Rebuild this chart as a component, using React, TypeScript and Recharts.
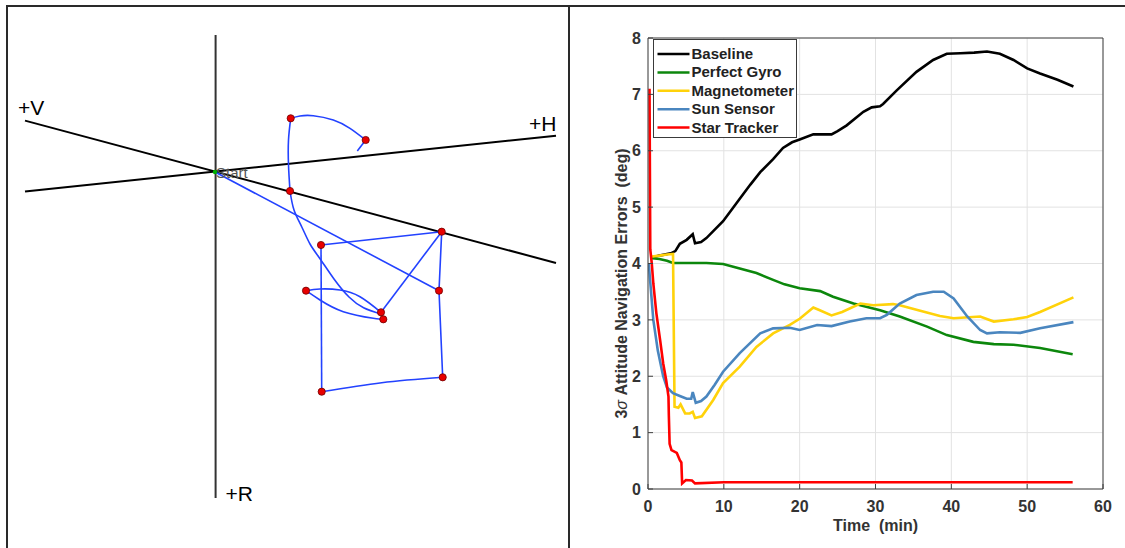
import React from 'react';
import { ComposedChart, Line, XAxis, YAxis, CartesianGrid, Scatter, Legend } from 'recharts';

const FONT = "'Liberation Sans', Arial, Helvetica, sans-serif";

// ---------------- Right panel: 3-sigma attitude navigation errors ----------------
const TIME_TICKS = [0, 10, 20, 30, 40, 50, 60];
const ERROR_TICKS = [0, 1, 2, 3, 4, 5, 6, 7, 8];

const baseline: [number, number][] = [
  [0.3, 4.1], [1.5, 4.14], [3.0, 4.18], [3.6, 4.22], [4.2, 4.35], [5.1, 4.42], [5.9, 4.52], [6.2, 4.36],
  [7.0, 4.38], [7.7, 4.45], [8.8, 4.6], [9.9, 4.75], [11, 4.95], [12.1, 5.15], [13.5, 5.4], [14.8, 5.62],
  [16.5, 5.85], [17.8, 6.05], [19, 6.15], [20, 6.2], [21.8, 6.29], [24.2, 6.29], [25, 6.35], [26.2, 6.45],
  [28.4, 6.69], [29.5, 6.77], [30.6, 6.79], [31, 6.83], [32.8, 7.07], [35.4, 7.4], [37.6, 7.61], [39.4, 7.72],
  [41.2, 7.73], [43, 7.74], [44.7, 7.76], [46.4, 7.72], [48.2, 7.61], [50, 7.46], [51.7, 7.37], [54, 7.26],
  [56.1, 7.14],
];
const perfectGyro: [number, number][] = [
  [0.3, 4.1], [1.5, 4.08], [2.5, 4.05], [3.3, 4.01], [7.7, 4.01], [9.9, 3.99], [12.1, 3.91], [14.3, 3.83],
  [16.5, 3.71], [18, 3.63], [20, 3.56], [22.7, 3.51], [24.4, 3.41], [27.1, 3.29], [30.6, 3.17], [33.2, 3.06],
  [36.8, 2.88], [39.4, 2.73], [42.9, 2.61], [45.6, 2.57], [48.2, 2.56], [51.7, 2.5], [56, 2.39],
];
const magnetometer: [number, number][] = [
  [0.3, 4.12], [1.5, 4.14], [2.5, 4.16], [3.3, 4.17], [3.5, 1.46], [4.0, 1.44], [4.3, 1.5], [4.9, 1.34],
  [5.5, 1.34], [5.9, 1.37], [6.2, 1.26], [7.1, 1.29], [8.6, 1.58], [9.9, 1.88], [12.1, 2.17], [14.3, 2.52],
  [16.5, 2.76], [18.7, 2.91], [20, 3.02], [21.8, 3.22], [22.5, 3.18], [24.2, 3.08], [25.6, 3.14], [28, 3.29],
  [29.7, 3.26], [32.3, 3.28], [33.2, 3.26], [35.9, 3.16], [38.5, 3.07], [40.3, 3.03], [43.8, 3.06], [45.6, 2.97],
  [48.2, 3.01], [50, 3.05], [51.7, 3.14], [56.1, 3.4],
];
const sunSensor: [number, number][] = [
  [0.1, 4.0], [0.4, 3.5], [0.7, 3.0], [1.3, 2.45], [2.0, 2.0], [2.5, 1.8], [3.3, 1.7], [4.2, 1.65],
  [5.1, 1.6], [5.7, 1.6], [5.9, 1.72], [6.3, 1.53], [7.0, 1.56], [7.7, 1.64], [8.8, 1.85], [9.9, 2.08],
  [12.1, 2.41], [14.8, 2.76], [16.5, 2.85], [18.7, 2.86], [20, 2.82], [22.3, 2.91], [24.2, 2.89], [26.6, 2.97],
  [28.8, 3.03], [30.6, 3.03], [31.5, 3.09], [33.2, 3.29], [35.4, 3.44], [37.6, 3.5], [39, 3.5], [40.3, 3.38],
  [42.1, 3.06], [43.8, 2.82], [44.7, 2.76], [46.4, 2.78], [49.1, 2.77], [51.7, 2.85], [56.1, 2.96],
];
const starTracker: [number, number][] = [
  [0.2, 7.1], [0.3, 4.25], [0.5, 4.0], [0.7, 3.65], [1.1, 3.12], [1.6, 2.64], [2.0, 2.23], [2.4, 1.93],
  [2.7, 1.64], [2.75, 1.3], [2.85, 0.8], [3.1, 0.69], [3.8, 0.64], [4.2, 0.51], [4.4, 0.47], [4.5, 0.1],
  [5.0, 0.16], [5.8, 0.15], [6.2, 0.1], [10, 0.12], [56, 0.12],
];

const SERIES = [
  { name: 'Baseline', color: '#000000', values: baseline },
  { name: 'Perfect Gyro', color: '#0c870c', values: perfectGyro },
  { name: 'Magnetometer', color: '#ffd20a', values: magnetometer },
  { name: 'Sun Sensor', color: '#4a86bf', values: sunSensor },
  { name: 'Star Tracker', color: '#ff0000', values: starTracker },
];

// ---------------- Left panel: relative-motion trajectory (units relative to Start) ----------------
const START: [number, number] = [0, 0];
const AXIS_R: [number, number][] = [[0.6, 137], [0.6, -326]];
const AXIS_V: [number, number][] = [[-190, 51.4], [341, -91]];
const AXIS_H: [number, number][] = [[-190, -19.6], [341, 36.3]];
const WAYPOINTS: [number, number][] = [
  [75.7, 53.7], [150.7, 32], [75, -19], [226.7, -59.7], [106, -73], [91, -118.7],
  [224, -118.7], [166, -140.3], [168.3, -147.3], [227.7, -205.3], [106.7, -219.7],
];
const PATH_SEGMENTS: { curve: 'linear' | 'natural'; pts: [number, number][] }[] = [
  { curve: 'linear', pts: [[0, 0], [224, -118.7]] },
  { curve: 'linear', pts: [[226.7, -59.7], [224, -118.7], [227.7, -205.3]] },
  { curve: 'natural', pts: [[227.7, -205.3], [166.7, -210.7], [106.7, -219.7]] },
  { curve: 'linear', pts: [[106.7, -219.7], [106, -73]] },
  { curve: 'linear', pts: [[106, -73], [226.7, -59.7]] },
  { curve: 'linear', pts: [[226.7, -59.7], [166, -140.3]] },
  { curve: 'natural', pts: [[166, -140.3], [145, -124.7], [125, -118], [105, -117], [91, -118.7]] },
  { curve: 'natural', pts: [[91, -118.7], [105, -128], [128.3, -139.7], [158.3, -146.3], [168.3, -147.3]] },
  { curve: 'natural', pts: [[166, -142], [148.6, -135.7], [134, -125], [119, -107], [105, -86.7], [95, -72], [86.8, -55], [79, -38], [75, -19]] },
  { curve: 'natural', pts: [[75, -19], [73.5, 7], [73.5, 32], [75.7, 53.7]] },
  { curve: 'natural', pts: [[75.7, 53.7], [85, 56], [98.3, 56.3], [118.3, 52], [135, 43.7], [150.7, 32]] },
  { curve: 'linear', pts: [[150.7, 32], [142.3, 21]] },
];
const AXIS_LABELS = [
  { x: -197, y: 57, text: '+V' },
  { x: 314, y: 41, text: '+H' },
  { x: 10.5, y: -328.5, text: '+R' },
];
const START_LABEL = [{ x: 1, y: -5.5, text: 'Start' }];

const xy = (arr: [number, number][]) => arr.map(([x, y]) => ({ x, y }));
const tv = (arr: [number, number][]) => arr.map(([t, v]) => ({ t, v }));

const AXIS_COLOR = '#404040';
const TICK_STYLE = { fontSize: 16, fontWeight: 'bold' as const, fill: '#333', fontFamily: FONT };

const YTitle = (props: any) => {
  const vb = props.viewBox || { x: 0, y: 38, width: 78, height: 451 };
  const cx = vb.x + 51;
  const cy = vb.y + vb.height / 2 + 20;
  return (
    <text x={cx} y={cy} transform={`rotate(-90 ${cx} ${cy})`} textAnchor="middle" dominantBaseline="central"
      fontFamily={FONT} fontSize={16} fontWeight="bold" fill="#333" style={{ whiteSpace: 'pre' }}>
      3<tspan fontStyle="italic" fontWeight="normal">σ</tspan> Attitude Navigation Errors  (deg)
    </text>
  );
};

const XTitle = (props: any) => {
  const vb = props.viewBox || { x: 78, y: 489, width: 455, height: 59 };
  return (
    <text x={vb.x + vb.width / 2} y={vb.y + 42} textAnchor="middle" fontFamily={FONT} fontSize={16}
      fontWeight="bold" fill="#333" style={{ whiteSpace: 'pre' }}>
      Time  (min)
    </text>
  );
};

const LegendBox = () => (
  <div style={{ width: 144, height: 99, boxSizing: 'border-box', border: '1px solid #3a3a3a', background: '#fff' }}>
    <svg width={142} height={97} style={{ display: 'block' }}>
      {SERIES.map((s, i) => {
        const y = 14 + i * 18.4;
        return (
          <g key={s.name}>
            <line x1={3.5} x2={35.5} y1={y} y2={y} stroke={s.color} strokeWidth={2.5} />
            <text x={37.5} y={y + 5} fontFamily={FONT} fontSize={15} fontWeight="bold" fill="#222">{s.name}</text>
          </g>
        );
      })}
    </svg>
  </div>
);

const TextShape = (size: number, fill: string) => (p: any) => (
  <text x={p.cx} y={p.cy} fontFamily={FONT} fontSize={size} fill={fill}>{p.payload.text}</text>
);

const DotShape = (p: any) => (
  <circle cx={p.cx} cy={p.cy} r={3.6} fill="#e80000" stroke="#700000" strokeWidth={0.8} />
);
const StartShape = (p: any) => <circle cx={p.cx} cy={p.cy} r={2.2} fill="#00b000" />;

export default function App() {
  return (
    <div style={{ position: 'absolute', left: 0, top: 0, width: 1125, height: 548, background: '#fff', overflow: 'hidden' }}>
      {/* frame */}
      <div style={{ position: 'absolute', left: 6, top: 5, width: 1119, height: 2, background: '#2a2a2a' }} />
      <div style={{ position: 'absolute', left: 6, top: 5, width: 2, height: 543, background: '#2a2a2a' }} />
      <div style={{ position: 'absolute', left: 568, top: 5, width: 2, height: 543, background: '#2a2a2a' }} />

      {/* left panel */}
      <div style={{ position: 'absolute', left: 9, top: 8 }}>
        <ComposedChart width={557} height={538} margin={{ top: 0, right: 0, bottom: 0, left: 0 }}>
          <XAxis type="number" dataKey="x" domain={[-206, 351]} hide allowDataOverflow />
          <YAxis type="number" dataKey="y" domain={[-374, 164]} hide allowDataOverflow />
          <Scatter data={START_LABEL} dataKey="y" shape={TextShape(15, '#555')} isAnimationActive={false} />
          <Line data={xy(AXIS_R)} dataKey="y" type="linear" stroke="#333" strokeWidth={2} dot={false} isAnimationActive={false} />
          <Line data={xy(AXIS_V)} dataKey="y" type="linear" stroke="#000" strokeWidth={2} dot={false} isAnimationActive={false} />
          <Line data={xy(AXIS_H)} dataKey="y" type="linear" stroke="#000" strokeWidth={2} dot={false} isAnimationActive={false} />
          {PATH_SEGMENTS.map((seg, i) => (
            <Line key={i} data={xy(seg.pts)} dataKey="y" type={seg.curve} stroke="#2342ff" strokeWidth={1.6}
              dot={false} isAnimationActive={false} />
          ))}
          <Scatter data={xy([START])} dataKey="y" shape={StartShape} isAnimationActive={false} />
          <Scatter data={xy(WAYPOINTS)} dataKey="y" shape={DotShape} isAnimationActive={false} />
          <Scatter data={AXIS_LABELS} dataKey="y" shape={TextShape(21, '#000')} isAnimationActive={false} />
        </ComposedChart>
      </div>

      {/* right panel */}
      <div style={{ position: 'absolute', left: 570, top: 0 }}>
        <ComposedChart width={555} height={548} margin={{ top: 37, right: 21, bottom: 0, left: 0 }}>
          <CartesianGrid stroke="#e2e2e2" strokeWidth={1} />
          <XAxis type="number" dataKey="t" domain={[0, 60]} ticks={TIME_TICKS} height={59} interval={0}
            tickSize={-5} tickMargin={17} tick={TICK_STYLE} axisLine={{ stroke: AXIS_COLOR }} tickLine={{ stroke: AXIS_COLOR }}
            label={<XTitle />} allowDataOverflow />
          <XAxis xAxisId="top" orientation="top" type="number" dataKey="t" domain={[0, 60]} ticks={TIME_TICKS} height={1}
            interval={0} tickSize={-5} tick={false} axisLine={{ stroke: AXIS_COLOR }} tickLine={{ stroke: AXIS_COLOR }} />
          <YAxis type="number" domain={[0, 8]} ticks={ERROR_TICKS} width={78} interval={0}
            tickSize={-5} tickMargin={12} tick={TICK_STYLE} axisLine={{ stroke: AXIS_COLOR }} tickLine={{ stroke: AXIS_COLOR }}
            label={<YTitle />} allowDataOverflow />
          <YAxis yAxisId="right" orientation="right" type="number" domain={[0, 8]} ticks={ERROR_TICKS} width={1}
            interval={0} tickSize={-5} tick={false} axisLine={{ stroke: AXIS_COLOR }} tickLine={{ stroke: AXIS_COLOR }} />
          {SERIES.map((s) => (
            <Line key={s.name} name={s.name} data={tv(s.values)} dataKey="v" type="linear" stroke={s.color}
              strokeWidth={2.6} dot={false} isAnimationActive={false} />
          ))}
          <Legend layout="vertical" align="center" verticalAlign="middle" content={() => <LegendBox />}
            wrapperStyle={{ left: 83, top: 39, width: 144, height: 99, right: 'auto', bottom: 'auto' }} />
        </ComposedChart>
      </div>
    </div>
  );
}
